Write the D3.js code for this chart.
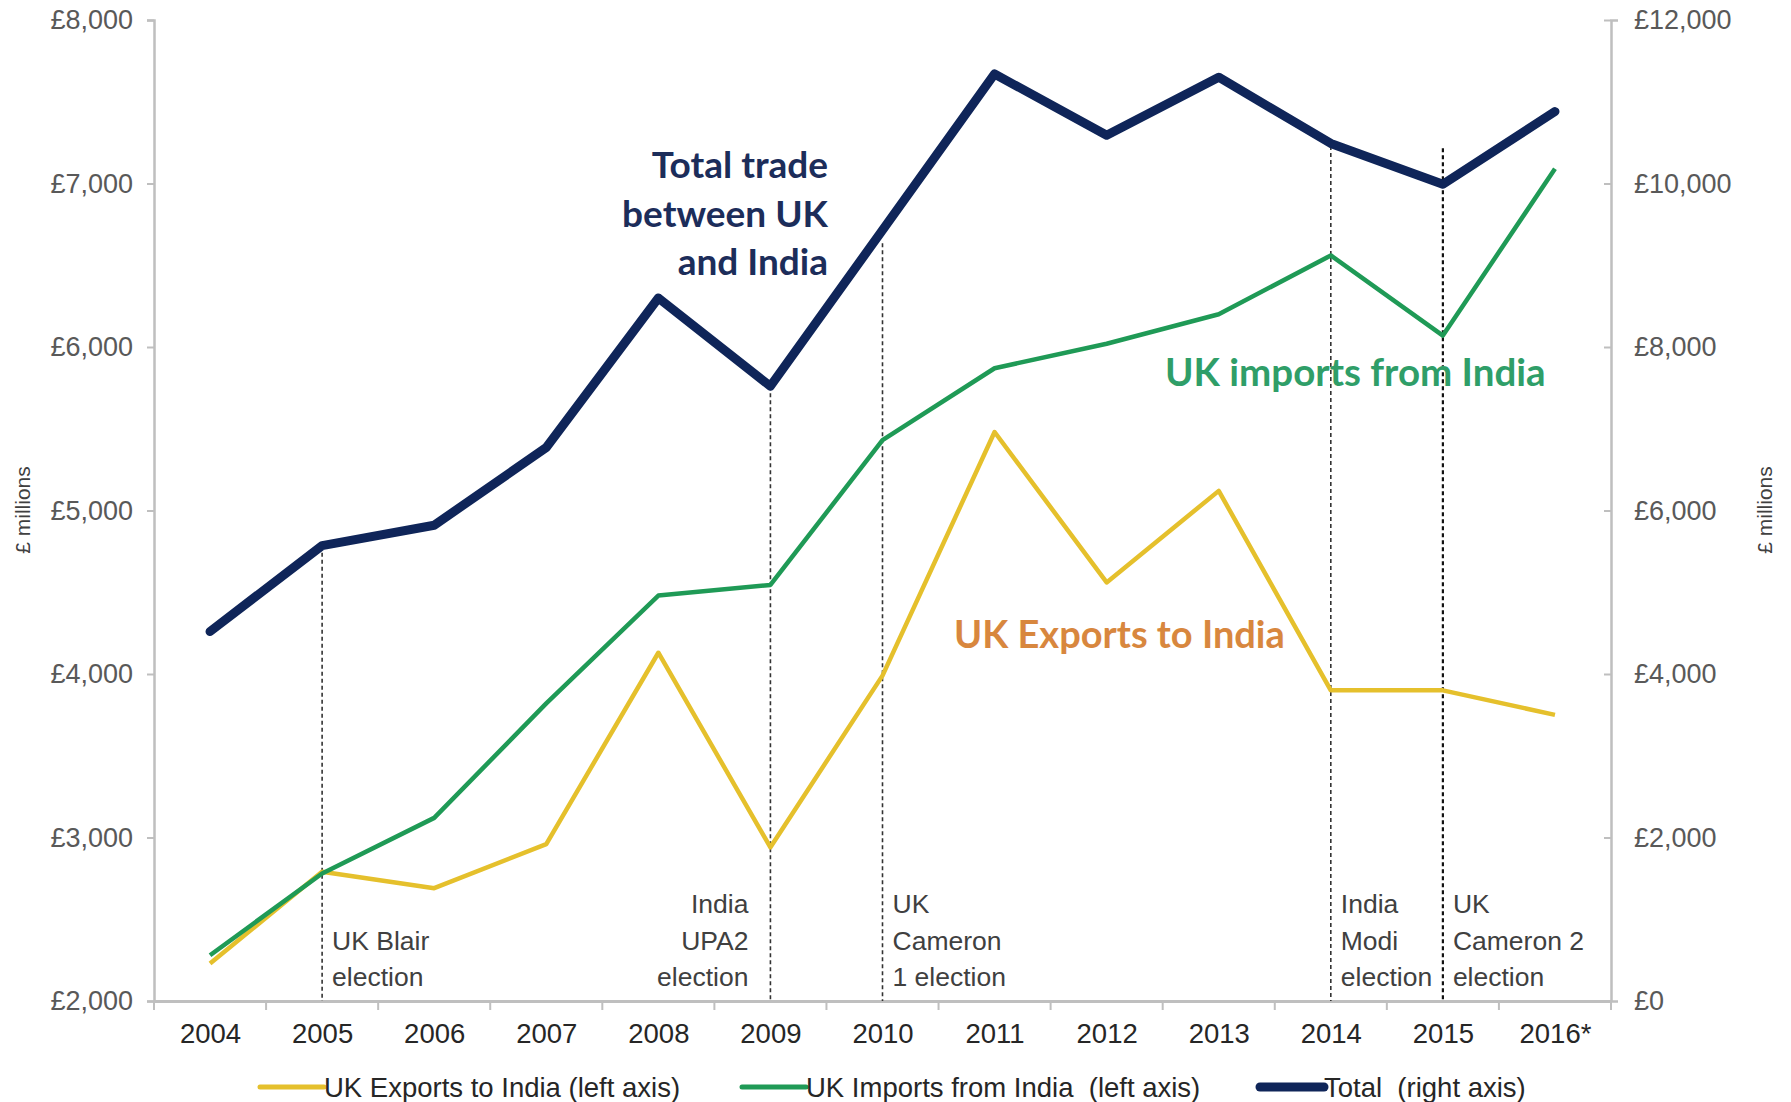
<!DOCTYPE html>
<html><head><meta charset="utf-8">
<script src="https://cdn.jsdelivr.net/npm/d3@7"></script>
<style>
html,body{margin:0;padding:0;background:#fff;}
svg{display:block;}
text{font-family:"Liberation Sans",Arial,sans-serif; white-space:pre;}
</style></head>
<body>
<svg id="chart" width="1791" height="1102"></svg>
<script>
// ---- data ----
const years = ["2004","2005","2006","2007","2008","2009","2010","2011","2012","2013","2014","2015","2016*"];
const exportsToIndia = [2230,2790,2690,2960,4130,2940,3990,5480,4560,5120,3900,3900,3750];
const importsFromIndia = [2280,2780,3120,3820,4480,4545,5430,5870,6020,6200,6560,6070,7090];
const totalTrade = [4520,5570,5820,6770,8600,7520,9430,11340,10590,11300,10490,9990,10880];
const leftTicks = [2000,3000,4000,5000,6000,7000,8000];
const rightTicks = [0,2000,4000,6000,8000,10000,12000];
const electionYears = ["2005","2009","2010","2014","2015"];
const electionTops = [5570,7520,9270,10460,10430]; // right-axis units
const electionLabels = [["UK Blair","election"],["India","UPA2","election"],["UK","Cameron","1 election"],["India","Modi","election"],["UK","Cameron 2","election"]];
const electionSide = ["right","left","right","right","right"];
const legendNames = ["UK Exports to India (left axis)","UK Imports from India  (left axis)","Total  (right axis)"];

// ---- layout ----
const svg = d3.select("#chart");
const L = 154, R = 1611, T = 20, B = 1001;
const x = d3.scalePoint().domain(years).range([L, R]).padding(0.5);
const step = x.step();
const yL = d3.scaleLinear().domain([2000, 8000]).range([B, T]);
const yR = d3.scaleLinear().domain([0, 12000]).range([B, T]);

const cExp = "#e5c02c", cImp = "#1f9a56", cTot = "#0f2559";
const grey = "#595959", axisGrey = "#bfbfbf";

// axes
const gL = svg.append("g").attr("transform", `translate(${L},0)`)
  .call(d3.axisLeft(yL).tickValues(leftTicks).tickSize(7).tickPadding(14).tickFormat(d => "£" + d3.format(",")(d)));
const gR = svg.append("g").attr("transform", `translate(${R},0)`)
  .call(d3.axisRight(yR).tickValues(rightTicks).tickSize(7).tickPadding(16).tickFormat(d => "£" + d3.format(",")(d)));
[gL, gR].forEach(g => {
  g.select(".domain").attr("stroke", axisGrey).attr("stroke-width", 2.5);
  g.selectAll(".tick line").attr("stroke", axisGrey).attr("stroke-width", 2);
  g.selectAll(".tick text").attr("fill", grey).style("font-size", "27px");
});
gR.selectAll(".tick line").attr("x1", -7).attr("x2", 0);

// x axis
const gX = svg.append("g").attr("transform", `translate(0,${B})`)
  .call(d3.axisBottom(x).tickSize(0).tickPadding(22));
gX.select(".domain").attr("stroke", axisGrey).attr("stroke-width", 3);
gX.selectAll(".tick text").attr("fill", "#262626").style("font-size", "27.5px");
// boundary ticks
const bounds = d3.range(years.length + 1).map(i => L + i * step);
gX.selectAll("line.bt").data(bounds).enter().append("line").attr("class","bt")
  .attr("x1", d => d).attr("x2", d => d).attr("y1", 0).attr("y2", 9)
  .attr("stroke", axisGrey).attr("stroke-width", 2);

// axis titles
svg.append("text").attr("transform", `translate(30,510) rotate(-90)`).attr("text-anchor","middle")
  .attr("fill", "#404040").style("font-size","21px").text("£ millions");
svg.append("text").attr("transform", `translate(1772,510) rotate(-90)`).attr("text-anchor","middle")
  .attr("fill", "#404040").style("font-size","21px").text("£ millions");

// election lines & labels
electionYears.forEach((yr, i) => {
  const xx = x(yr);
  svg.append("line").attr("x1", xx).attr("x2", xx).attr("y1", yR(electionTops[i])).attr("y2", B)
    .attr("stroke", i === 4 ? "#111" : "#333").attr("stroke-width", i === 4 ? 2.2 : 1.6)
    .attr("stroke-dasharray", "4,3");
  const lines = electionLabels[i];
  const side = electionSide[i];
  const t = svg.append("text").attr("fill", "#404040").style("font-size", "26.5px")
    .attr("text-anchor", side === "left" ? "end" : "start");
  const baseLast = 986, lh = 36.5;
  lines.forEach((ln, k) => {
    t.append("tspan").attr("x", side === "left" ? xx - 22 : xx + 10)
      .attr("y", baseLast - (lines.length - 1 - k) * lh).text(ln);
  });
});

// series lines
const lineL = d3.line().x((d, i) => x(years[i])).y(d => yL(d));
const lineR = d3.line().x((d, i) => x(years[i])).y(d => yR(d));
svg.append("path").datum(exportsToIndia).attr("d", lineL).attr("fill","none")
  .attr("stroke", cExp).attr("stroke-width", 4.5).attr("stroke-linejoin","round");
svg.append("path").datum(importsFromIndia).attr("d", lineL).attr("fill","none")
  .attr("stroke", cImp).attr("stroke-width", 4.5).attr("stroke-linejoin","round");
svg.append("path").datum(totalTrade).attr("d", lineR).attr("fill","none")
  .attr("stroke", cTot).attr("stroke-width", 9).attr("stroke-linejoin","round").attr("stroke-linecap","round");

// annotations
const annFont = "Lato, 'Open Sans', sans-serif";
const ann = svg.append("text").attr("text-anchor","end").attr("fill", "#1c2d5a")
  .style("font-family", annFont).style("font-weight","700").style("font-size","37px");
["Total trade","between UK","and India"].forEach((s, k) => {
  ann.append("tspan").attr("x", 828).attr("y", 178 + k * 48.5).text(s);
});
svg.append("text").attr("x", 1165).attr("y", 386).attr("fill", "#2f9e68")
  .style("font-family", annFont).style("font-weight","700").style("font-size","38.5px")
  .text("UK imports from India");
svg.append("text").attr("x", 954).attr("y", 648).attr("fill", "#d8873e")
  .style("font-family", annFont).style("font-weight","700").style("font-size","38px")
  .text("UK Exports to India");

// legend
const legColors = [cExp, cImp, cTot];
const legX = [260, 742, 1260];
legendNames.forEach((nm, i) => {
  svg.append("line").attr("x1", legX[i]).attr("x2", legX[i] + 64).attr("y1", 1087).attr("y2", 1087)
    .attr("stroke", legColors[i]).attr("stroke-width", i === 2 ? 9 : 5).attr("stroke-linecap","round");
  svg.append("text").attr("x", legX[i] + 64).attr("y", 1097).attr("fill", "#262626")
    .style("font-size", "27.5px").text(nm);
});
</script>
</body></html>
